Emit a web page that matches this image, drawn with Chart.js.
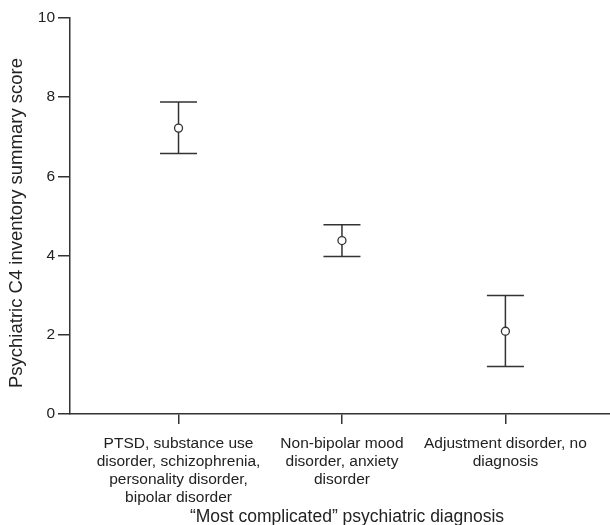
<!DOCTYPE html>
<html><head><meta charset="utf-8">
<script src="https://cdn.jsdelivr.net/npm/chart.js@4"></script>
<style>html,body{margin:0;padding:0;background:#fff}#wrap{width:610px;height:525px}</style>
</head><body><div id="wrap"><canvas id="c" width="610" height="525"></canvas></div>
<script>
const categories = [
  ["PTSD, substance use", "disorder, schizophrenia,", "personality disorder,", "bipolar disorder"],
  ["Non-bipolar mood", "disorder, anxiety", "disorder"],
  ["Adjustment disorder, no", "diagnosis"]
];
const means = [7.22, 4.38, 2.09];
const lower = [6.58, 3.98, 1.20];
const upper = [7.88, 4.78, 2.99];
const yTicks = [0, 2, 4, 6, 8, 10];
const yTitle = "Psychiatric C4 inventory summary score";
const xTitle = "\u201cMost complicated\u201d psychiatric diagnosis";

const ink = '#333333';
const font = "'Liberation Sans', Arial, Helvetica, sans-serif";

const errorBars = {
  id: 'errorBars',
  afterDatasetsDraw(chart) {
    const {ctx, scales: {x, y}} = chart;
    ctx.save();
    ctx.strokeStyle = ink;
    ctx.lineWidth = 1.5;
    means.forEach((m, i) => {
      const px = x.getPixelForValue(i + 1);
      const pt = y.getPixelForValue(upper[i]);
      const pb = y.getPixelForValue(lower[i]);
      const pm = y.getPixelForValue(m);
      const r = 4;
      const cap = 18.5;
      ctx.beginPath();
      ctx.moveTo(px, pt); ctx.lineTo(px, pm - r);
      ctx.moveTo(px, pm + r); ctx.lineTo(px, pb);
      ctx.moveTo(px - cap, pt); ctx.lineTo(px + cap, pt);
      ctx.moveTo(px - cap, pb); ctx.lineTo(px + cap, pb);
      ctx.stroke();
    });
    ctx.restore();
  },
  afterDraw(chart) {
    const {ctx} = chart;
    ctx.save();
    ctx.fillStyle = '#222';
    ctx.font = "18.5px " + font;
    ctx.textAlign = 'center';
    ctx.textBaseline = 'middle';
    ctx.translate(17, 223);
    ctx.rotate(-Math.PI / 2);
    ctx.fillText(yTitle, 0, 0);
    ctx.restore();
    ctx.save();
    ctx.fillStyle = '#222';
    ctx.font = "17.5px " + font;
    ctx.textAlign = 'center';
    ctx.textBaseline = 'alphabetic';
    ctx.fillText(xTitle, 347, 522);
    ctx.restore();
  }
};

new Chart(document.getElementById('c'), {
  type: 'scatter',
  data: {
    datasets: [{
      data: means.map((m, i) => ({x: i + 1, y: m})),
      pointRadius: 4,
      pointBorderWidth: 1.3,
      pointBorderColor: ink,
      pointBackgroundColor: 'rgba(255,255,255,0)',
      showLine: false,
      clip: false
    }]
  },
  options: {
    responsive: false,
    devicePixelRatio: 1,
    animation: false,
    layout: {autoPadding: false, padding: {top: 18, right: 0, bottom: 0, left: 0}},
    plugins: {legend: {display: false}, tooltip: {enabled: false}},
    scales: {
      x: {
        type: 'linear',
        min: 0.336,
        max: 3.64,
        afterBuildTicks(s) { s.ticks = categories.map((c, i) => ({value: i + 1})); },
        afterFit(s) { s.height = 111; s.paddingRight = 0; s.paddingLeft = 0; },
        ticks: {
          autoSkip: false,
          maxRotation: 0,
          minRotation: 0,
          color: '#222',
          padding: 11,
          font: {family: font, size: 15.5, lineHeight: 1.16},
          callback(v) { const i = Math.round(v) - 1; return categories[i] || ''; }
        },
        grid: {drawOnChartArea: false, drawTicks: true, tickLength: 10, color: ink, lineWidth: 1.5},
        border: {display: true, color: ink, width: 1.5},
        title: {display: false}
      },
      y: {
        min: 0,
        max: 10,
        afterBuildTicks(s) { s.ticks = yTicks.map(v => ({value: v})); },
        afterFit(s) { s.width = 70; s.paddingTop = 0; s.paddingBottom = 0; },
        ticks: {color: '#222', padding: 3, font: {family: font, size: 15.5}},
        grid: {drawOnChartArea: false, drawTicks: true, tickLength: 12, color: ink, lineWidth: 1.5},
        border: {display: true, color: ink, width: 1.5},
        title: {display: false}
      }
    }
  },
  plugins: [errorBars]
});
</script></body></html>
